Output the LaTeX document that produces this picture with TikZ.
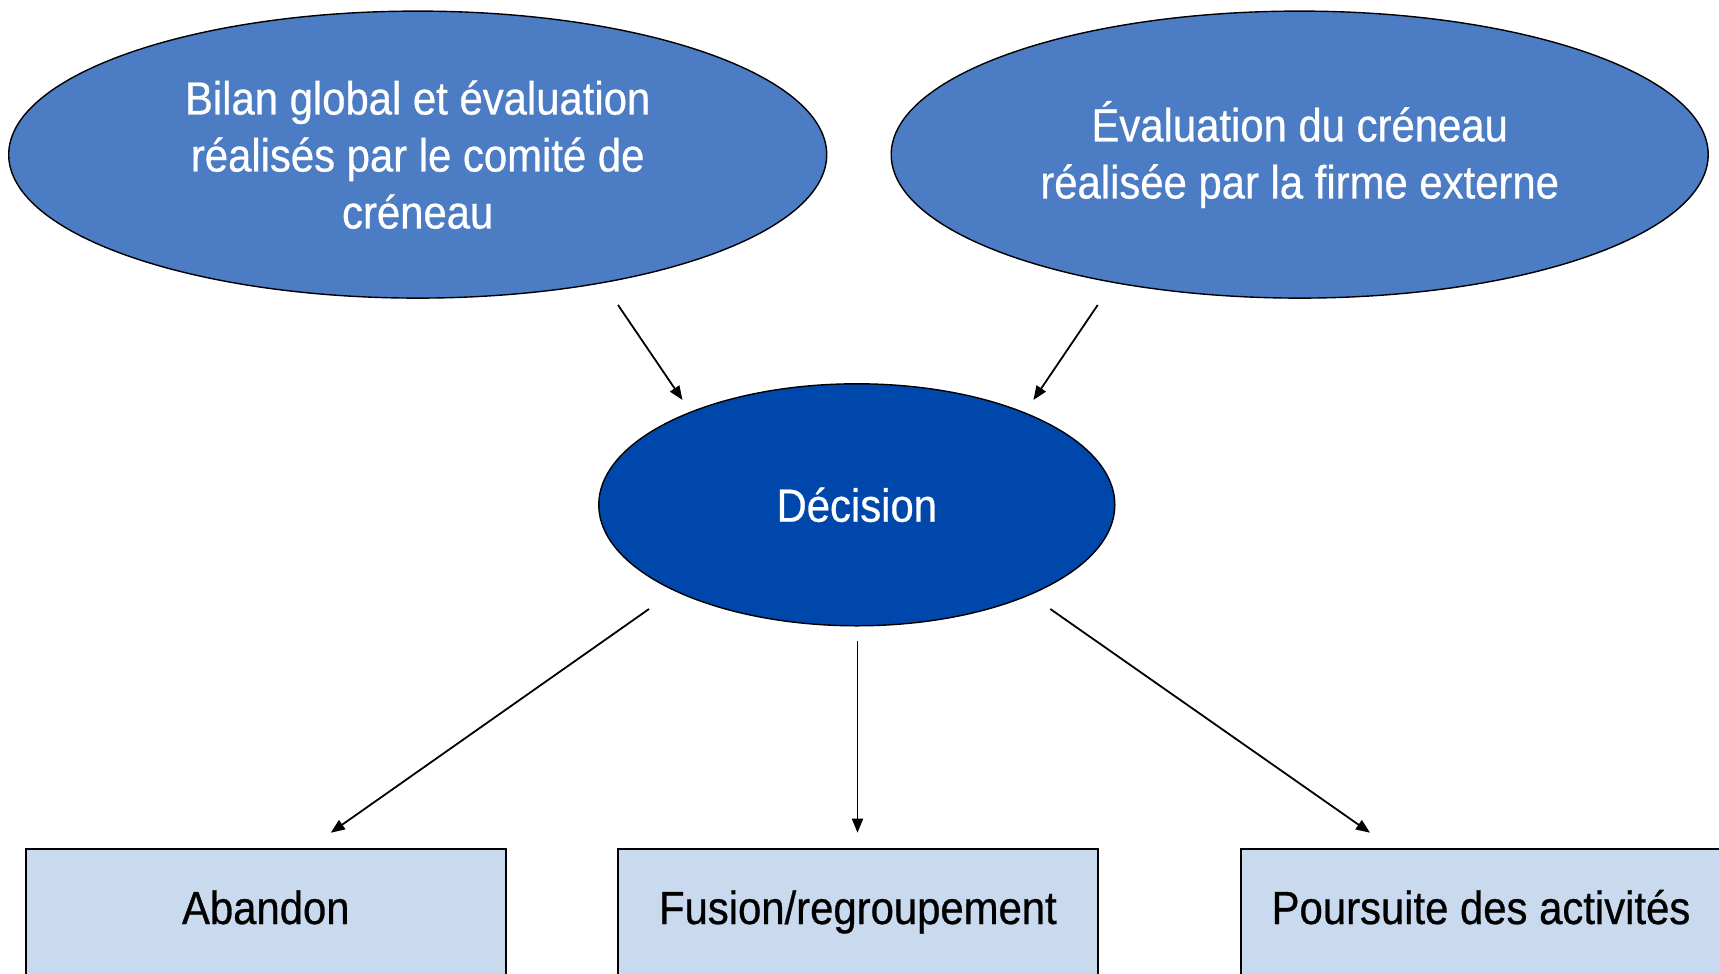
\documentclass[tikz,border=0pt]{standalone}
\usepackage{fontspec}
\setmainfont{Liberation Sans}[FakeStretch=0.9,FakeBold=0.6]
\usetikzlibrary{arrows.meta,shapes.geometric}
\definecolor{ovalblue}{RGB}{75,124,196}
\definecolor{decblue}{RGB}{0,71,171}
\definecolor{boxblue}{RGB}{201,217,238}
\begin{document}
\begin{tikzpicture}[x=1pt,y=-1pt,
  oval/.style={ellipse,draw=black,line width=1.4pt,fill=ovalblue,inner sep=0pt,
    text=white,align=center,font=\fontsize{46.5}{57}\selectfont},
  decoval/.style={oval,fill=decblue},
  outbox/.style={rectangle,draw=black,line width=2pt,fill=boxblue,anchor=north,
    minimum width=480pt,inner xsep=0pt,inner ysep=42pt,text height=33pt,text depth=100pt,
    text=black,font=\fontsize{46.5}{57}\selectfont},
  arr/.style={line width=1.8pt,-{Triangle[length=14pt,width=11pt]}}]
\useasboundingbox (0,0) rectangle (1719,974);
\clip (0,0) rectangle (1719,974);
\fill[white] (0,0) rectangle (1719,974);
\node[oval,minimum width=818pt,minimum height=287pt] (bilan) at (417.7,154.6)
  {Bilan global et évaluation\\réalisés par le comité de\\créneau};
\node[oval,minimum width=817pt,minimum height=287pt] (eval) at (1299.7,154.6)
  {Évaluation du créneau\\réalisée par la firme externe};
\node[decoval,minimum width=516pt,minimum height=242pt] (dec) at (856.8,504.8) {Décision};
\node[outbox] (aband) at (265.8,848) {Abandon};
\node[outbox] (fusion) at (857.9,848) {Fusion/regroupement};
\node[outbox] (pours) at (1481,848) {Poursuite des activités};
\coordinate (a1s) at (618,305);
\coordinate (a1e) at (682.5,400);
\coordinate (a2s) at (1097.7,305);
\coordinate (a2e) at (1033.4,400);
\coordinate (b1s) at (649,609);
\coordinate (b1e) at (330.8,832.7);
\coordinate (b2s) at (857.5,641);
\coordinate (b2e) at (857.5,832.7);
\coordinate (b3s) at (1050.3,609);
\coordinate (b3e) at (1370,832.7);
\draw[arr] (a1s) -- (a1e);
\draw[arr] (a2s) -- (a2e);
\draw[arr] (b1s) -- (b1e);
\draw[arr] (b2s) -- (b2e);
\draw[arr] (b3s) -- (b3e);
\end{tikzpicture}
\end{document}
